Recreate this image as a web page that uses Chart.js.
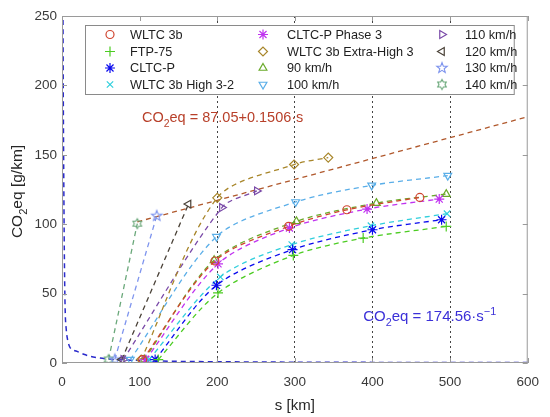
<!DOCTYPE html>
<html>
<head>
<meta charset="utf-8">
<script src="https://cdn.jsdelivr.net/npm/chart.js@4/dist/chart.umd.min.js"></script>
<style>
  html, body { margin: 0; padding: 0; background: #fff; }
  #wrap { width: 550px; height: 417px; }
</style>
</head>
<body>
<div id="wrap"><canvas id="co2chart"></canvas></div>
<script>
// ---- data (s in km, CO2eq in g/km) ----
var seriesNames = ["WLTC 3b", "FTP-75", "CLTC-P", "WLTC 3b High 3-2",
  "CLTC-P Phase 3", "WLTC 3b Extra-High 3", "90 km/h", "100 km/h",
  "110 km/h", "120 km/h", "130 km/h", "140 km/h"];

var wltc3b_s = [104, 197, 292, 367, 461];
var wltc3b_co2 = [2.5, 73.5, 98.5, 110.4, 119.3];
var ftp75_s = [124, 201, 298, 388, 495];
var ftp75_co2 = [2.5, 50.5, 77.5, 90, 98.4];
var cltcp_s = [120, 199, 297, 400, 489];
var cltcp_co2 = [2.5, 56, 81.7, 96, 103.2];
var high32_s = [112, 204, 296, 398, 496];
var high32_co2 = [2.5, 62, 85.3, 98.9, 107.6];
var cltcp3_s = [108, 201, 293, 393, 486];
var cltcp3_co2 = [2.5, 71.4, 97.3, 110.9, 118.1];
var xhigh3_s = [102, 200, 299, 343];
var xhigh3_co2 = [2.5, 119, 143, 148];
var v90_s = [106, 196, 302, 405, 495];
var v90_co2 = [2.5, 74, 102, 115.2, 121.7];
var v100_s = [88, 199, 301, 399, 497];
var v100_co2 = [2.5, 91, 116, 128, 135];
var v110_s = [79, 206, 251];
var v110_co2 = [2.5, 112, 124];
var v120_s = [77, 163];
var v120_co2 = [2.5, 114.5];
var v130_s = [68, 122];
var v130_co2 = [2.5, 106];
var v140_s = [60, 97];
var v140_co2 = [2.5, 100.4];

// fitted curves
var linFit_s = [97, 600];
var linFit_co2 = [101.7, 177.4];
var invFit_s = [1.2, 1.6, 2.2, 3, 4, 5.5, 7.5, 10, 14, 20, 28, 36, 45, 55, 70, 90, 120, 160, 200, 300, 400, 500, 600];
var invFit_co2 = [260, 200, 140, 80, 40, 24, 16, 11.5, 9.5, 8.2, 6.3, 4.9, 3.9, 3.1, 2.5, 2, 1.5, 1.1, 0.9, 0.6, 0.45, 0.35, 0.3];

var xTicks = [0, 100, 200, 300, 400, 500, 600];
var yTicks = [0, 50, 100, 150, 200, 250];
var gridAt = [200, 300, 400, 500];

var seriesS = [wltc3b_s, ftp75_s, cltcp_s, high32_s, cltcp3_s, xhigh3_s, v90_s, v100_s, v110_s, v120_s, v130_s, v140_s];
var seriesCO2 = [wltc3b_co2, ftp75_co2, cltcp_co2, high32_co2, cltcp3_co2, xhigh3_co2, v90_co2, v100_co2, v110_co2, v120_co2, v130_co2, v140_co2];

// ---- styling ----
var colors = ["#d0452f", "#4ccc22", "#0a0aee", "#30cfdc", "#c033f0", "#a8862a",
  "#6aaa2a", "#5aaee8", "#7a4aa8", "#4a4238", "#7f95ee", "#6aa87a"];

function starCanvas(n, rOut, rIn, color) {
  var c = document.createElement("canvas");
  var sz = 2 * Math.ceil(rOut) + 4;
  c.width = sz; c.height = sz;
  var g = c.getContext("2d");
  g.strokeStyle = color;
  g.lineWidth = 1.1;
  g.beginPath();
  for (var i = 0; i < 2 * n; i++) {
    var a = -Math.PI / 2 + i * Math.PI / n;
    var r = i % 2 ? rIn : rOut;
    var px = sz / 2 + r * Math.cos(a), py = sz / 2 + r * Math.sin(a);
    if (i) g.lineTo(px, py); else g.moveTo(px, py);
  }
  g.closePath();
  g.stroke();
  return c;
}

var markers = [
  { style: "circle", rot: 0, r: 4 },
  { style: "cross", rot: 0, r: 5 },
  { style: "star", rot: 0, r: 5 },
  { style: "crossRot", rot: 0, r: 4.5 },
  { style: "star", rot: 0, r: 5 },
  { style: "rectRot", rot: 0, r: 4.5 },
  { style: "triangle", rot: 0, r: 4.5 },
  { style: "triangle", rot: 180, r: 4.5 },
  { style: "triangle", rot: 90, r: 4.5 },
  { style: "triangle", rot: 270, r: 4.5 },
  { style: starCanvas(5, 5.5, 2.3, colors[10]), rot: 0, r: 5 },
  { style: starCanvas(6, 5, 2.9, colors[11]), rot: 0, r: 5 }
];

var datasets = [];
for (var i = 0; i < seriesNames.length; i++) {
  var pts = [];
  for (var j = 0; j < seriesS[i].length; j++) pts.push({ x: seriesS[i][j], y: seriesCO2[i][j] });
  datasets.push({
    label: seriesNames[i],
    data: pts,
    showLine: true,
    borderColor: colors[i],
    borderWidth: 1.3,
    borderDash: [5, 4],
    tension: 0.3,
    pointStyle: markers[i].style,
    pointRotation: markers[i].rot,
    pointRadius: markers[i].r,
    pointBorderColor: colors[i],
    pointBackgroundColor: "rgba(0,0,0,0)",
    pointBorderWidth: 1.2
  });
}

function zip(a, b) {
  var out = [];
  for (var k = 0; k < a.length; k++) out.push({ x: a[k], y: b[k] });
  return out;
}

datasets.push({
  label: "linear fit",
  data: zip(linFit_s, linFit_co2),
  showLine: true,
  borderColor: "#b0582c",
  borderWidth: 1.3,
  borderDash: [5, 4],
  pointRadius: 0
});
datasets.push({
  label: "inverse fit",
  data: zip(invFit_s, invFit_co2),
  showLine: true,
  borderColor: "#2a2acc",
  borderWidth: 1.5,
  borderDash: [5, 4],
  cubicInterpolationMode: "monotone",
  pointRadius: 0
});

// draw text with a subscript / superscript run
function drawRich(ctx, x, y, parts, size, color) {
  ctx.save();
  ctx.fillStyle = color;
  ctx.textBaseline = "alphabetic";
  ctx.textAlign = "left";
  parts.forEach(function (p) {
    var fs = p.sub || p.sup ? size * 0.72 : size;
    var dy = p.sub ? size * 0.3 : (p.sup ? -size * 0.45 : 0);
    ctx.font = fs + "px 'Liberation Sans', Arial, sans-serif";
    ctx.fillText(p.t, x, y + dy);
    x += ctx.measureText(p.t).width;
  });
  ctx.restore();
}
function richWidth(ctx, parts, size) {
  var w = 0;
  ctx.save();
  parts.forEach(function (p) {
    var fs = p.sub || p.sup ? size * 0.72 : size;
    ctx.font = fs + "px 'Liberation Sans', Arial, sans-serif";
    w += ctx.measureText(p.t).width;
  });
  ctx.restore();
  return w;
}

var decorPlugin = {
  id: "decor",
  afterDatasetsDraw: function (chart) {
    var ctx = chart.ctx, a = chart.chartArea;
    var xs = chart.scales.x, ys = chart.scales.y;

    // box + inward ticks
    ctx.save();
    ctx.strokeStyle = "#9a9a9a";
    ctx.lineWidth = 1;
    ctx.strokeRect(a.left + 0.5, a.top + 0.5, a.right - a.left - 1, a.bottom - a.top - 1);
    ctx.beginPath();
    xTicks.forEach(function (v) {
      var px = Math.round(xs.getPixelForValue(v)) + 0.5;
      ctx.moveTo(px, a.bottom); ctx.lineTo(px, a.bottom - 5);
      ctx.moveTo(px, a.top); ctx.lineTo(px, a.top + 5);
    });
    yTicks.forEach(function (v) {
      var py = Math.round(ys.getPixelForValue(v)) + 0.5;
      ctx.moveTo(a.left, py); ctx.lineTo(a.left + 5, py);
      ctx.moveTo(a.right, py); ctx.lineTo(a.right - 5, py);
    });
    ctx.stroke();
    ctx.restore();

    // fit annotations
    drawRich(ctx, xs.getPixelForValue(103), ys.getPixelForValue(173.5),
      [{ t: "CO" }, { t: "2", sub: true }, { t: "eq = 87.05+0.1506\u00b7s" }], 14.5, "#b8402a");
    drawRich(ctx, xs.getPixelForValue(388), ys.getPixelForValue(30),
      [{ t: "CO" }, { t: "2", sub: true }, { t: "eq = 174.56\u00b7s" }, { t: "\u22121", sup: true }], 15, "#3b30d8");

    // axis titles
    var yt = [{ t: "CO" }, { t: "2", sub: true }, { t: "eq [g/km]" }];
    var w = richWidth(ctx, yt, 15.5);
    ctx.save();
    ctx.translate(22, (a.top + a.bottom) / 2 + 2);
    ctx.rotate(-Math.PI / 2);
    drawRich(ctx, -w / 2, 0, yt, 15.5, "#262626");
    ctx.restore();
    ctx.save();
    ctx.fillStyle = "#262626";
    ctx.font = "15px 'Liberation Sans', Arial, sans-serif";
    ctx.textAlign = "center";
    ctx.textBaseline = "alphabetic";
    ctx.fillText("s [km]", (a.left + a.right) / 2, 410);
    ctx.restore();

    // legend: 3 columns x 4 rows
    var bx = a.left + 23, by = a.top + 9, bw = a.right - 14 - bx, bh = 69;
    ctx.save();
    ctx.fillStyle = "#fff";
    ctx.fillRect(bx, by, bw, bh);
    ctx.strokeStyle = "#8a8a8a";
    ctx.lineWidth = 1;
    ctx.strokeRect(bx + 0.5, by + 0.5, bw, bh);
    var markX = [bx + 25, bx + 178, bx + 357];
    var textX = [bx + 45, bx + 202, bx + 380];
    var rowY = [by + 9.5, by + 26.5, by + 43, by + 59.5];
    ctx.font = "12.7px 'Liberation Sans', Arial, sans-serif";
    ctx.textBaseline = "middle";
    ctx.textAlign = "left";
    for (var k = 0; k < seriesNames.length; k++) {
      var col = Math.floor(k / 4), row = k % 4;
      ctx.strokeStyle = colors[k];
      ctx.fillStyle = "rgba(0,0,0,0)";
      ctx.lineWidth = 1.2;
      Chart.helpers.drawPoint(ctx, {
        pointStyle: markers[k].style,
        rotation: markers[k].rot,
        radius: markers[k].r,
        borderWidth: 1.2
      }, markX[col], rowY[row]);
      ctx.fillStyle = "#1e1e1e";
      ctx.fillText(seriesNames[k], textX[col], rowY[row] + 0.5);
    }
    ctx.restore();
  }
};

new Chart(document.getElementById("co2chart"), {
  type: "scatter",
  data: { datasets: datasets },
  plugins: [decorPlugin],
  options: {
    responsive: true,
    maintainAspectRatio: false,
    animation: false,
    layout: { padding: { top: 16, right: 18, left: 0, bottom: 0 } },
    plugins: {
      legend: { display: false },
      tooltip: { enabled: false }
    },
    scales: {
      x: {
        type: "linear",
        min: 0,
        max: 600,
        afterFit: function (scale) { scale.height = 54; },
        afterBuildTicks: function (scale) { scale.ticks = xTicks.map(function (v) { return { value: v }; }); },
        border: { display: false, dash: [2, 3] },
        grid: {
          drawTicks: false,
          lineWidth: 1,
          color: function (c) { return gridAt.indexOf(c.tick.value) >= 0 ? "#444" : "rgba(0,0,0,0)"; }
        },
        ticks: { padding: 11, color: "#3a3a3a", font: { size: 13.5, family: "'Liberation Sans', Arial, sans-serif" } }
      },
      y: {
        type: "linear",
        min: 0,
        max: 250,
        afterFit: function (scale) { scale.width = 62; },
        afterBuildTicks: function (scale) { scale.ticks = yTicks.map(function (v) { return { value: v }; }); },
        border: { display: false },
        grid: { display: false, drawTicks: false },
        ticks: { padding: 5, color: "#3a3a3a", font: { size: 13.5, family: "'Liberation Sans', Arial, sans-serif" } }
      }
    }
  }
});
</script>
</body>
</html>
